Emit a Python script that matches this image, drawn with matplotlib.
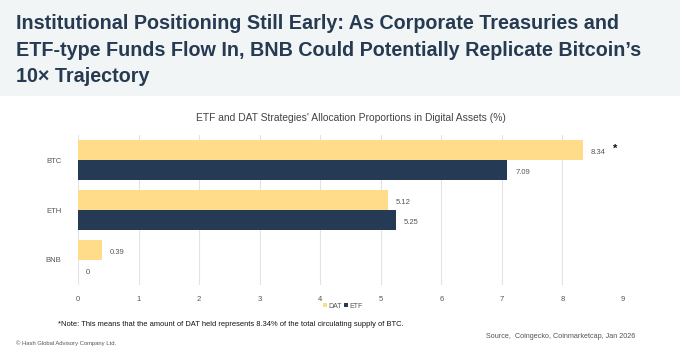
import numpy as np
import matplotlib.pyplot as plt
from matplotlib.patches import Rectangle

plt.rcParams['font.family'] = ['Liberation Sans', 'DejaVu Sans']

# datos
categorias = ['BTC', 'ETH', 'BNB']
dat = [8.34, 5.12, 0.39]
etf = [7.09, 5.25, 0]
xticks = [0, 1, 2, 3, 4, 5, 6, 7, 8, 9]

col_dat = '#FFDC8A'
col_etf = '#253A55'
W, H = 680, 355

fig = plt.figure(figsize=(6.8, 3.55), dpi=100)
fig.patch.set_facecolor('white')

# banda del encabezado
fig.patches.append(Rectangle((0, 1 - 96 / H), 1, 96 / H, transform=fig.transFigure,
                             facecolor='#F2F5F5', edgecolor='none', zorder=0))
titulo = ('Institutional Positioning Still Early: As Corporate Treasuries and\n'
          'ETF-type Funds Flow In, BNB Could Potentially Replicate Bitcoin\u2019s\n'
          '10\u00d7 Trajectory')
fig.text(16 / W, 1 - 14 / H, titulo, ha='left', va='top', fontsize=14.2,
         color='#263A52', fontweight='bold', linespacing=1.5)

# ejes
x0, x1 = 78, 623
y0, y1 = 135, 285
ax = fig.add_axes([x0 / W, 1 - y1 / H, (x1 - x0) / W, (y1 - y0) / H])
y = np.arange(len(categorias))
h = 0.4
ax.barh(y - h / 2, dat, height=h, color=col_dat, label='DAT', zorder=2)
ax.barh(y + h / 2, etf, height=h, color=col_etf, label='ETF', zorder=2)
ax.set_xlim(0, 9)
ax.set_ylim(2.5, -0.5)
ax.set_xticks(xticks)
ax.set_yticks(y)
ax.set_yticklabels(categorias)
ax.tick_params(length=0, labelsize=5.5, colors='#555555', pad=8)
ax.tick_params(axis='y', pad=12)
ax.grid(axis='x', color='#E3E3E3', linewidth=0.8, zorder=0)
for s in ax.spines.values():
    s.set_visible(False)

for i in range(len(categorias)):
    ax.text(dat[i] + 0.13, y[i] - h / 2 + 0.04, '%g' % dat[i], va='center', ha='left',
            fontsize=5.5, color='#555555')
    ax.text(etf[i] + 0.13, y[i] + h / 2 + 0.04, '%g' % etf[i], va='center', ha='left',
            fontsize=5.5, color='#555555')
ax.text(dat[0] + 0.53, -0.22, '*', ha='center', va='center', fontsize=8,
        fontweight='bold', color='#111111')

ax.set_title("ETF and DAT Strategies' Allocation Proportions in Digital Assets (%)",
             fontsize=7.4, color='#444444', pad=10)

fig.legend(loc='center', bbox_to_anchor=(343 / W, 1 - 306 / H), ncol=2, frameon=False,
           fontsize=5, handlelength=0.6, handleheight=0.6, handletextpad=0.2,
           columnspacing=0.3, labelcolor='#555555')

fig.text(58 / W, 1 - 324 / H,
         '*Note: This means that the amount of DAT held represents 8.34% of the total circulating supply of BTC.',
         fontsize=5.45, color='#111111', va='center')
fig.text(16 / W, 1 - 343 / H, '\u00a9 Hash Global Advisory Company Ltd.', fontsize=4.2,
         color='#555555', va='center')
fig.text(635 / W, 1 - 337 / H, 'Source,  Coingecko, Coinmarketcap, Jan 2026', fontsize=5.2,
         color='#555555', va='center', ha='right')

fig.savefig('out.png', dpi=100)
